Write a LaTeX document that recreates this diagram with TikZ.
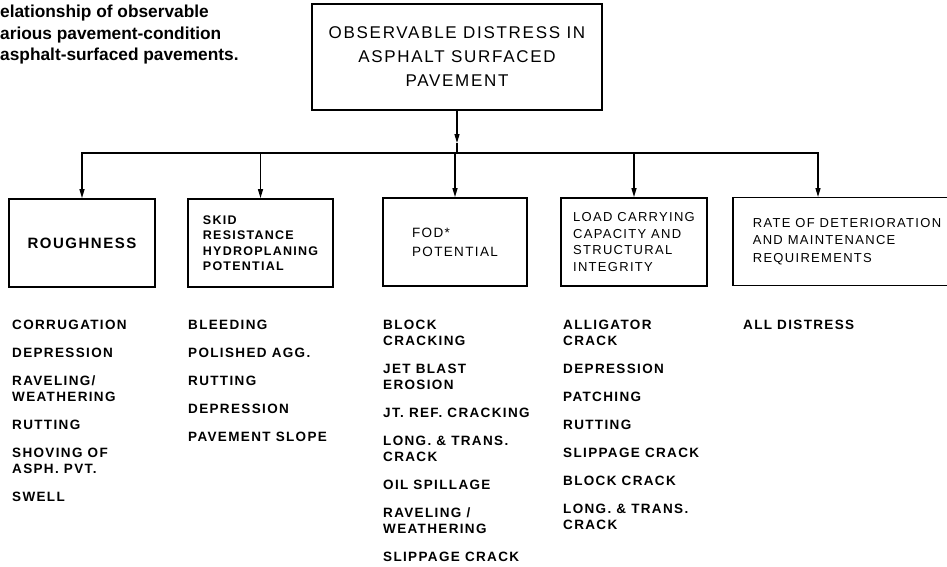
\documentclass[tikz,border=0pt]{standalone}
\usepackage{fontspec}
\usepackage{tikz}
\usetikzlibrary{positioning,arrows.meta}
\newfontfamily\lettering[LetterSpace=10]{Liberation Sans}
\newfontfamily\capfont{Liberation Sans}

\begin{document}
\begin{tikzpicture}[
				x=1pt, y=-1pt,
				mainbox/.style={rectangle, draw, line width=1.8pt, minimum width=290pt, minimum height=106pt, align=center, font=\lettering\fontsize{17}{24}\selectfont},
				catbox/.style={rectangle, draw, line width=1.8pt, minimum height=88pt, align=left, inner sep=0pt, font=\lettering\fontsize{13}{16.5}\selectfont},
				listcol/.style={anchor=north west, align=left, inner sep=0pt, font=\lettering\bfseries\fontsize{13.5}{16}\selectfont},
				arrowline/.style={line width=1.3pt, -{Triangle[length=9pt,width=5pt]}},
				plainline/.style={line width=1.3pt},
				]
				\useasboundingbox (0,0) rectangle (947,567);
				
				%Caption
				\node[anchor=north west, align=left, inner sep=0pt, font=\capfont\bfseries\fontsize{17.3}{21.5}\selectfont] (caption) at (0,5) {elationship of observable\\arious pavement-condition\\asphalt-surfaced pavements.};
				
				%Nodes
				\node[mainbox](distress) at (457,57) {OBSERVABLE DISTRESS IN\\ASPHALT SURFACED\\PAVEMENT};
				\node[catbox, minimum width=146pt, font=\lettering\bfseries\fontsize{15}{16}\selectfont](rough) at (82,243) {ROUGHNESS};
				\node[catbox, minimum width=145pt, font=\lettering\bfseries\fontsize{12.5}{15.5}\selectfont](skid) at (260.5,243) {SKID\\RESISTANCE\\HYDROPLANING\\POTENTIAL};
				\node[catbox, minimum width=144pt, font=\lettering\fontsize{13.5}{19}\selectfont](fod) at (455,242) {FOD*\\POTENTIAL};
				\node[catbox, minimum width=146pt](load) at (634,242) {LOAD CARRYING\\CAPACITY AND\\STRUCTURAL\\INTEGRITY};
				\node[catbox, minimum width=228pt, font=\lettering\fontsize{13}{17.5}\selectfont](rate) at (847,241.5) {RATE OF DETERIORATION\\AND MAINTENANCE\\REQUIREMENTS};
				
				%Lists
				\node[listcol](roughlist) at (12,320) {CORRUGATION\\[12pt]DEPRESSION\\[12pt]RAVELING/\\WEATHERING\\[12pt]RUTTING\\[12pt]SHOVING OF\\ASPH. PVT.\\[12pt]SWELL};
				\node[listcol](skidlist) at (188,320) {BLEEDING\\[12pt]POLISHED AGG.\\[12pt]RUTTING\\[12pt]DEPRESSION\\[12pt]PAVEMENT SLOPE};
				\node[listcol](fodlist) at (383,320) {BLOCK\\CRACKING\\[12pt]JET BLAST\\EROSION\\[12pt]JT. REF. CRACKING\\[12pt]LONG. \& TRANS.\\CRACK\\[12pt]OIL SPILLAGE\\[12pt]RAVELING /\\WEATHERING\\[12pt]SLIPPAGE CRACK};
				\node[listcol](loadlist) at (563,320) {ALLIGATOR\\CRACK\\[12pt]DEPRESSION\\[12pt]PATCHING\\[12pt]RUTTING\\[12pt]SLIPPAGE CRACK\\[12pt]BLOCK CRACK\\[12pt]LONG. \& TRANS.\\CRACK};
				\node[listcol](ratelist) at (743,320) {ALL DISTRESS};
				
				%Lines
				\coordinate (hub) at (457,153);
				\coordinate (stemtip) at (457,143);
				\coordinate (ratedrop) at (818,197);
				\draw[arrowline] (distress.south) -- (stemtip);
				\draw[plainline] (stemtip) -- (hub);
				\draw[arrowline] (hub) -| (rough.north);
				\draw[arrowline] (hub) -| (ratedrop);
				\draw[arrowline] (skid.north |- hub) -- (skid.north);
				\draw[arrowline] (fod.north |- hub) -- (fod.north);
				\draw[arrowline] (load.north |- hub) -- (load.north);
				
			\end{tikzpicture}
\end{document}
